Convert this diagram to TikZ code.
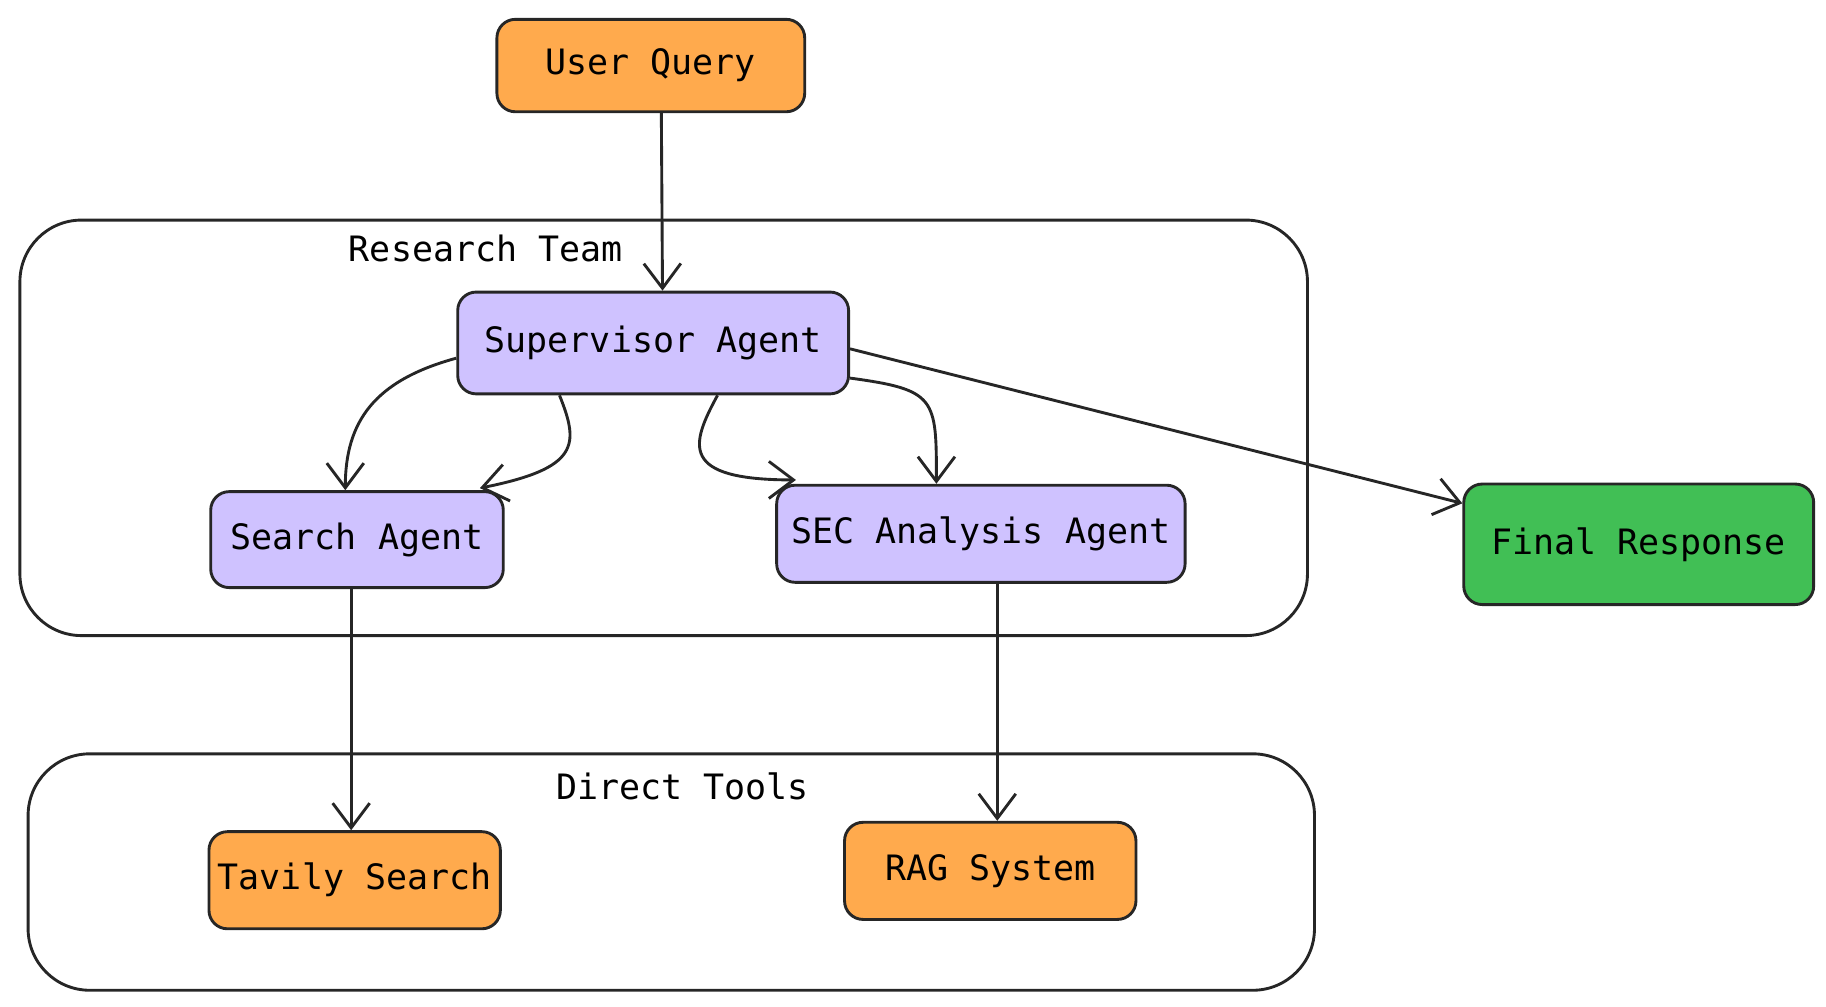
\documentclass[tikz,border=0pt]{standalone}
\usepackage{fontspec}
\setmainfont{DejaVu Sans Mono}
\usetikzlibrary{arrows.meta,positioning}
\definecolor{toolorange}{HTML}{FFAA4D}
\definecolor{agentpurple}{HTML}{CFC2FF}
\definecolor{finalgreen}{HTML}{41BF55}
\tikzset{
  box/.style={draw=black!85,line width=1.4pt,rounded corners=9pt,
    font=\fontsize{17}{20}\selectfont,inner sep=0pt},
  group/.style={draw=black!85,line width=1.4pt,rounded corners=30pt},
  flow/.style={draw=black!85,line width=1.4pt,-{Straight Barb[length=12pt,width=18pt]}},
  grouplabel/.style={font=\fontsize{17}{20}\selectfont}
}
\begin{document}
\begin{tikzpicture}[x=0.02cm,y=-0.02cm]
  \useasboundingbox (0,0) rectangle (1560,860);

  % Groups
  \draw[group] (17,188) rectangle (1117,543);
  \draw[group] (24,644) rectangle (1123,846);
  \node[grouplabel] (teamlbl) at (415,212) {Research Team};
  \node[grouplabel] (toolslbl) at (583,672) {Direct Tools};

  % Nodes
  \node[box,fill=toolorange,minimum width=5.26cm,minimum height=1.58cm] (query) at (556,56) {User Query};
  \node[box,fill=agentpurple,minimum width=6.68cm,minimum height=1.74cm] (super) at (558,293) {Supervisor Agent};
  \node[box,fill=agentpurple,minimum width=5cm,minimum height=1.64cm] (search) at (305,461) {Search Agent};
  \node[box,fill=agentpurple,minimum width=6.98cm,minimum height=1.66cm] (sec) at (838,456) {SEC Analysis Agent};
  \node[box,fill=finalgreen,minimum width=5.98cm,minimum height=2.06cm] (final) at (1400,465) {Final Response};
  \node[box,fill=toolorange,minimum width=4.98cm,minimum height=1.66cm] (tavily) at (303,752) {Tavily Search};
  \node[box,fill=toolorange,minimum width=4.98cm,minimum height=1.66cm] (rag) at (846,744) {RAG System};

  % Connectors
  \draw[flow] (query.south -| 565,0) -- (super.north -| 566,0);
  \draw[flow] (super.west |- 0,306) .. controls (320,325) and (295,360) .. (search.north -| 295,0);
  \draw[flow] (super.south -| 478,0) .. controls (495,380) and (495,400) .. (410,417);
  \draw[flow] (super.south -| 613,0) .. controls (590,380) and (580,410) .. (680,410);
  \draw[flow] (super.east |- 0,323) .. controls (800,333) and (800,340) .. (sec.north -| 800,0);
  \draw[flow] (super.east |- 0,298) -- (final.north west |- 0,430);
  \draw[flow] (search.south -| 300,0) -- (tavily.north -| 300,0);
  \draw[flow] (sec.south -| 852,0) -- (rag.north -| 852,0);
\end{tikzpicture}
\end{document}
